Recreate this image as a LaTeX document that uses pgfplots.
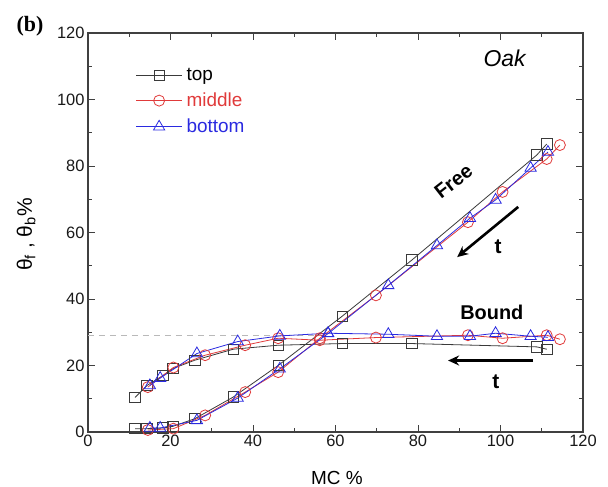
\documentclass[border=0pt]{standalone}
\usepackage{pgfplots}
\pgfplotsset{compat=1.18}
\usepackage{fontspec}
\setmainfont{Liberation Sans}
\newfontfamily\serifb{Liberation Serif}
\usetikzlibrary{arrows.meta}
\definecolor{topc}{HTML}{3A3A3A}
\definecolor{midc}{HTML}{E03A3A}
\definecolor{botc}{HTML}{2A2AE0}
\definecolor{axc}{HTML}{404040}
\begin{document}
\begin{tikzpicture}
\useasboundingbox (-88bp,-55bp) rectangle (520bp,432bp);
\begin{axis}[
  at={(0,0)}, anchor=south west,
  scale only axis, width=495bp, height=399bp,
  xmin=0, xmax=120, ymin=0, ymax=120,
  xtick={0,20,...,120}, ytick={0,20,...,120},
  minor x tick num=1, minor y tick num=1,
  tick align=inside,
  xtick pos=both, ytick pos=both,
  xticklabel pos=lower, yticklabel pos=left,
  major tick length=7bp, minor tick length=4bp,
  axis line style={draw=axc, line width=1.1bp},
  every tick/.style={draw=axc, line width=0.8bp},
  ticklabel style={font=\fontsize{16.5}{19}\selectfont, text=black!90},
  /pgf/number format/assume math mode=true,
  xlabel={MC \%},
  ylabel={θ\textsubscript{f} , θ\textsubscript{b}\%},
  xlabel style={font=\fontsize{19}{22}\selectfont, at={(axis description cs:0.503,-0.115)}, anchor=center},
  ylabel style={font=\fontsize{21}{24}\selectfont, at={(axis description cs:-0.125,0.495)}, anchor=center},
  clip=false,
  legend cell align=left,
  legend style={draw=none, fill=none, at={(axis description cs:0.09,0.922)}, anchor=north west,
    font=\fontsize{19}{22}\selectfont, row sep=7bp,
    nodes={inner xsep=4bp}},
  legend image code/.code={\draw[mark repeat=2,mark phase=2] plot coordinates {(0bp,0bp) (23bp,0bp) (46bp,0bp)};},
]
\addplot[color=gray!55, line width=0.8bp, dash pattern=on 6bp off 5bp, forget plot] coordinates {(0,29.2) (57,29.2)};

% top (squares)
\addplot[color=topc, line width=0.8bp, mark=square, mark size=5.2bp, mark options={solid, draw=topc, fill=none}] coordinates {
(11.4,10.4) (14.3,14.0) (18.2,17.0) (20.6,19.1) (25.9,21.6) (35.2,24.9) (46.1,26.1) (61.6,26.6) (78.5,26.6) (108.8,25.6) (111.2,24.9)};
\addlegendentry{top}
\addplot[color=topc, line width=0.8bp, mark=square, mark size=5.2bp, mark options={solid, draw=topc, fill=none}, forget plot] coordinates {
(11.4,1.0) (14.3,1.0) (18.2,1.2) (20.6,1.7) (25.9,4.0) (35.2,10.5) (46.1,20.0) (61.6,34.8) (78.5,51.7) (108.8,83.3) (111.2,86.6)};

% middle (circles)
\addplot[color=midc, line width=0.8bp, mark=o, mark size=5.5bp, mark options={solid, draw=midc, fill=none}] coordinates {
(14.5,13.5) (20.7,19.4) (28.4,23.1) (38.1,26.1) (46.1,28.2) (56.2,27.6) (69.8,28.4) (92.1,29.1) (100.5,28.2) (111.2,29.1) (114.4,27.9)};
\addlegendentry{\textcolor{midc}{middle}}
\addplot[color=midc, line width=0.8bp, mark=o, mark size=5.5bp, mark options={solid, draw=midc, fill=none}, forget plot] coordinates {
(14.5,0.6) (20.7,1.0) (28.4,5.0) (38.1,12.0) (46.1,18.0) (56.2,28.2) (69.8,41.1) (92.1,63.1) (100.5,72.2) (111.2,82.1) (114.4,86.3)};

% bottom (triangles)
\addplot[color=botc, line width=0.8bp, mark=triangle, mark size=6.5bp, mark options={solid, draw=botc, fill=none}] coordinates {
(15.0,14.0) (17.5,16.2) (26.4,23.6) (36.3,27.2) (46.5,28.9) (58.2,29.7) (72.8,29.4) (84.6,28.8) (92.6,28.8) (98.8,29.7) (107.3,28.8) (111.5,28.5)};
\addlegendentry{\textcolor{botc}{bottom}}
\addplot[color=botc, line width=0.8bp, mark=triangle, mark size=6.5bp, mark options={solid, draw=botc, fill=none}, forget plot] coordinates {
(15.0,1.2) (17.5,1.2) (26.4,3.5) (36.3,10.2) (46.5,19.0) (58.2,29.6) (72.8,44.1) (84.6,56.1) (92.6,64.3) (98.8,69.8) (107.3,79.4) (111.5,84.2)};

\node[font=\fontsize{23}{27}\selectfont\itshape] at (axis cs:101,112.5) {Oak};
\node[font=\fontsize{20}{24}\selectfont\bfseries, rotate=38] at (axis cs:88.6,75.3) {Free};
\node[font=\fontsize{20}{24}\selectfont\bfseries] at (axis cs:97.9,36) {Bound};
\draw[-{Stealth[length=11bp,width=10bp]}, line width=2.6bp] (axis cs:104.3,67.7) -- (axis cs:89.5,52.6);
\node[font=\fontsize{21}{24}\selectfont\bfseries] at (axis cs:99.4,55.6) {t};
\draw[-{Stealth[length=11bp,width=10bp]}, line width=2.6bp] (axis cs:107.9,21.5) -- (axis cs:87.3,21.5);
\node[font=\fontsize{21}{24}\selectfont\bfseries] at (axis cs:98.9,15) {t};
\end{axis}
\node[font=\serifb\bfseries\fontsize{22}{26}\selectfont] at (-58bp,406bp) {(b)};
\end{tikzpicture}
\end{document}
